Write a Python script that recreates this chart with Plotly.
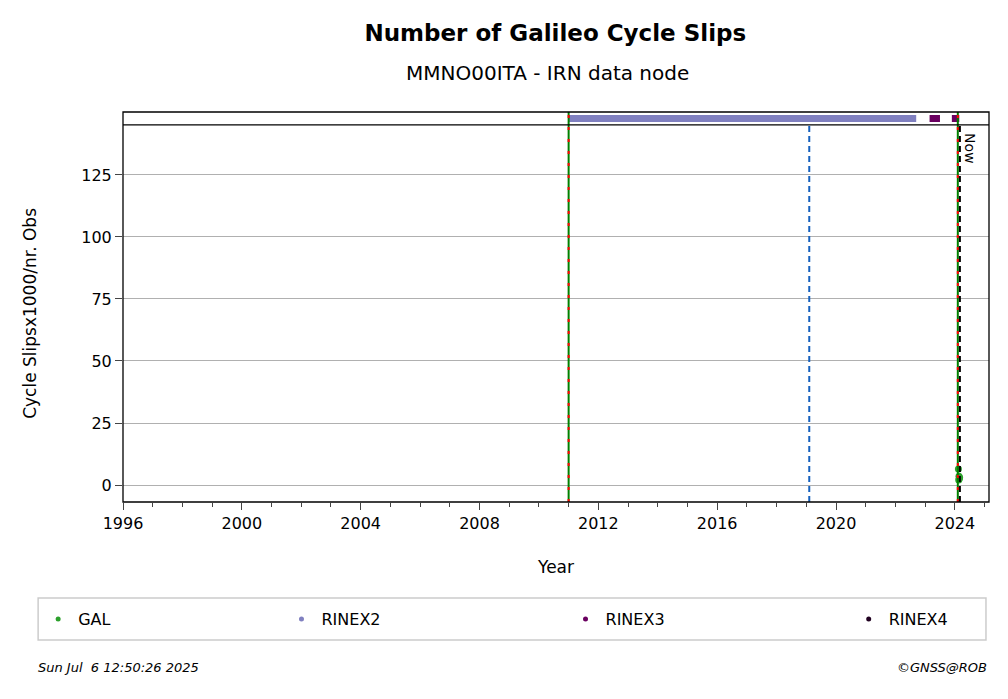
import plotly.graph_objects as go

# GAL cycle slips (decimal year, slips x1000 / nr obs)
gal_t = [2024.12, 2024.13, 2024.14, 2024.15, 2024.16]
gal_v = [6.5, 2.0, 3.5, 2.5, 3.0]

# data availability strip
rnx2_t = [2011.0, 2016.0, 2018.5, 2022.7]
rnx3_a = [2023.15, 2023.5]
rnx3_b = [2023.9, 2024.15]

ev_green = [2011.0, 2024.1]
ev_blue = 2019.1
now_t = 2024.17

tick_years = list(range(1996, 2026, 4))

fig = go.Figure()
fig.add_trace(go.Scatter(x=gal_t, y=gal_v, mode='markers', showlegend=False,
                         marker=dict(color='#2ca02c', size=7)))
fig.add_trace(go.Scatter(x=rnx2_t, y=[0]*len(rnx2_t), mode='lines', showlegend=False, yaxis='y2',
                         line=dict(color='#8080c0', width=7)))
fig.add_trace(go.Scatter(x=rnx3_a, y=[0, 0], mode='lines', showlegend=False, yaxis='y2',
                         line=dict(color='#6a0060', width=7)))
fig.add_trace(go.Scatter(x=rnx3_b, y=[0, 0], mode='lines', showlegend=False, yaxis='y2',
                         line=dict(color='#6a0060', width=7)))

# one legend per entry, spread across the frame
leg_names = ['GAL', 'RINEX2', 'RINEX3', 'RINEX4']
leg_cols = ['#2ca02c', '#8080c0', '#6a0060', '#200020']
leg_x = [-0.098, 0.183, 0.511, 0.838]
legends = {}
for i, (nm, col) in enumerate(zip(leg_names, leg_cols)):
    key = 'legend' if i == 0 else 'legend%d' % (i + 1)
    fig.add_trace(go.Scatter(x=[None], y=[None], mode='markers', name=nm, legend=key,
                             marker=dict(color=col, size=5)))
    legends[key] = dict(x=leg_x[i], xanchor='left', y=-0.3, yanchor='middle', borderwidth=0,
                        bgcolor='rgba(0,0,0,0)', font=dict(size=16), itemwidth=30)

shapes = []
for t in ev_green:
    shapes.append(dict(type='line', xref='x', yref='paper', x0=t, x1=t, y0=0, y1=1,
                       line=dict(color='green', width=2)))
    shapes.append(dict(type='line', xref='x', yref='paper', x0=t, x1=t, y0=0, y1=1,
                       line=dict(color='red', width=2, dash='3px,9px')))
shapes.append(dict(type='line', xref='x', yref='paper', x0=ev_blue, x1=ev_blue, y0=0, y1=0.967,
                   line=dict(color='#1560bd', width=2, dash='6px,4px')))
shapes.append(dict(type='line', xref='x', yref='paper', x0=now_t, x1=now_t, y0=0, y1=0.967,
                   line=dict(color='black', width=2, dash='6px,4px')))
shapes.append(dict(type='rect', xref='paper', yref='paper', x0=0, x1=1, y0=0, y1=1,
                   line=dict(color='black', width=1.3)))
shapes.append(dict(type='line', xref='paper', yref='paper', x0=0, x1=1, y0=0.967, y1=0.967,
                   line=dict(color='black', width=1.3)))
# legend frame
shapes.append(dict(type='rect', xref='paper', yref='paper', x0=-0.098, x1=0.9965, y0=-0.354, y1=-0.246,
                   line=dict(color='#cccccc', width=1.5)))

fig.update_layout(
    width=1008, height=699, plot_bgcolor='white', paper_bgcolor='white',
    margin=dict(l=115, r=27, t=104, b=205, autoexpand=False),
    font=dict(family='DejaVu Sans', size=16, color='black'),
    title=dict(text='<b>Number of Galileo Cycle Slips</b>',
               x=0.543, xanchor='center', y=0.964, yanchor='middle', font=dict(size=23)),
    xaxis=dict(range=[1996, 2025.15], tickvals=tick_years, ticks='outside', ticklen=7,
               minor=dict(dtick=1, ticks='outside', ticklen=4, tick0=1996),
               showline=False, showgrid=False, zeroline=False, automargin=False,
               title=dict(text='Year', standoff=28, font=dict(size=17))),
    yaxis=dict(domain=[0, 0.967], range=[-6.85, 145.2], tickvals=[0, 25, 50, 75, 100, 125],
               ticks='outside', ticklen=7, showline=False, automargin=False,
               gridcolor='#b0b0b0', zeroline=False,
               title=dict(text='Cycle Slipsx1000/nr. Obs', standoff=40, font=dict(size=17))),
    yaxis2=dict(domain=[0.967, 1], range=[-1, 1], showticklabels=False, showgrid=False,
                zeroline=False, showline=False, automargin=False),
    shapes=shapes,
    annotations=[
        dict(text='MMNO00ITA - IRN data node', xref='paper', yref='paper', x=0.49, y=1.1,
             xanchor='center', yanchor='middle', showarrow=False, font=dict(size=20)),
        dict(text='Now', xref='x', yref='paper', x=now_t, y=0.95, xanchor='left', yanchor='top',
             textangle=90, showarrow=False, font=dict(size=14)),
        dict(text='<i>Sun Jul  6 12:50:26 2025</i>', xref='paper', yref='paper', x=-0.1, y=-0.425,
             xanchor='left', yanchor='middle', showarrow=False, font=dict(size=13)),
        dict(text='<i>©GNSS@ROB</i>', xref='paper', yref='paper', x=1.0, y=-0.425,
             xanchor='right', yanchor='middle', showarrow=False, font=dict(size=13)),
    ],
    **legends,
)
fig.write_html('out.html')
